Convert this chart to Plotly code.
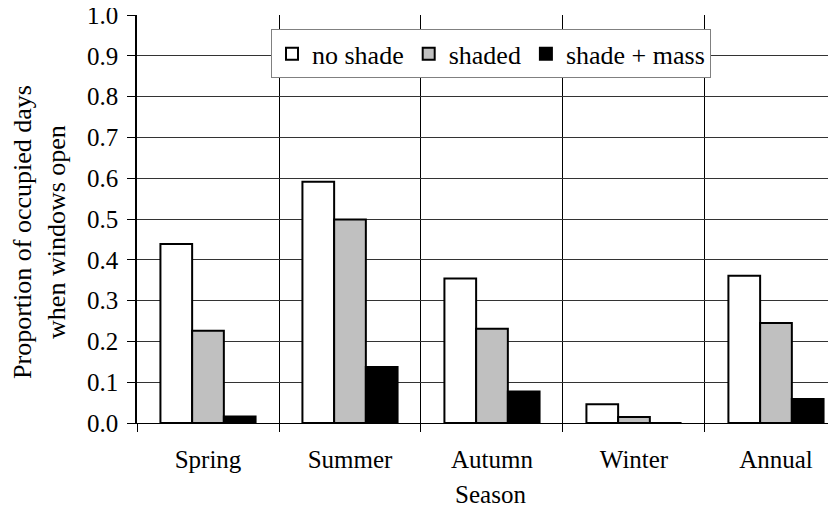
import plotly.graph_objects as go

seasons = ["Spring", "Summer", "Autumn", "Winter", "Annual"]
no_shade = [0.439, 0.591, 0.354, 0.046, 0.361]
shaded = [0.226, 0.499, 0.231, 0.015, 0.245]
shade_mass = [0.016, 0.137, 0.077, 0.0, 0.059]
y_ticks = [0.0, 0.1, 0.2, 0.3, 0.4, 0.5, 0.6, 0.7, 0.8, 0.9, 1.0]

FONT = "'Times New Roman', 'Liberation Serif', serif"
FS = 25

fig = go.Figure()
for name, vals, col in [("no shade", no_shade, "#FFFFFF"),
                        ("shaded", shaded, "#C0C0C0"),
                        ("shade + mass", shade_mass, "#000000")]:
    fig.add_trace(go.Bar(x=seasons, y=vals, name=name,
                         marker=dict(color=col, line=dict(color="#000000", width=2))))

fig.update_layout(
    width=836, height=509,
    margin=dict(l=129, r=0, t=7, b=94, autoexpand=False),
    paper_bgcolor="white", plot_bgcolor="white",
    barmode="group", bargap=0.33, bargroupgap=0,
    font=dict(family=FONT, size=FS, color="black"),
    legend=dict(orientation="h", x=0.5007, y=0.905, xanchor="center", yanchor="middle",
                bgcolor="white", bordercolor="#808080", borderwidth=1,
                font=dict(family=FONT, size=26), itemsizing="constant"),
    showlegend=True,
    annotations=[dict(text="Proportion of occupied days<br>when windows open",
                      xref="paper", yref="paper", x=-0.137, y=0.4685,
                      xanchor="center", yanchor="middle", textangle=-90,
                      showarrow=False, font=dict(family=FONT, size=26, color="black"))],
)
fig.update_xaxes(
    type="category", range=[-0.5, 4.479], automargin=False,
    tickson="boundaries", ticks="outside", ticklen=8, tickcolor="black", tickwidth=1,
    ticklabelstandoff=14,
    showgrid=True, gridcolor="black", gridwidth=1,
    showline=True, linecolor="black", linewidth=1,
    title=dict(text="Season", standoff=13, font=dict(family=FONT, size=FS)),
    tickfont=dict(family=FONT, size=FS),
)
fig.update_yaxes(
    range=[0, 1.0], tickvals=y_ticks, ticktext=[f"{v:.1f}" for v in y_ticks],
    automargin=False, ticklabeloverflow="allow",
    ticks="outside", ticklen=8, tickcolor="black", tickwidth=1,
    ticklabelstandoff=4,
    showgrid=True, gridcolor="#333333", gridwidth=1,
    showline=True, linecolor="black", linewidth=1.5,
    zeroline=False,
    tickfont=dict(family=FONT, size=FS),
)

fig.write_html("out.html")
